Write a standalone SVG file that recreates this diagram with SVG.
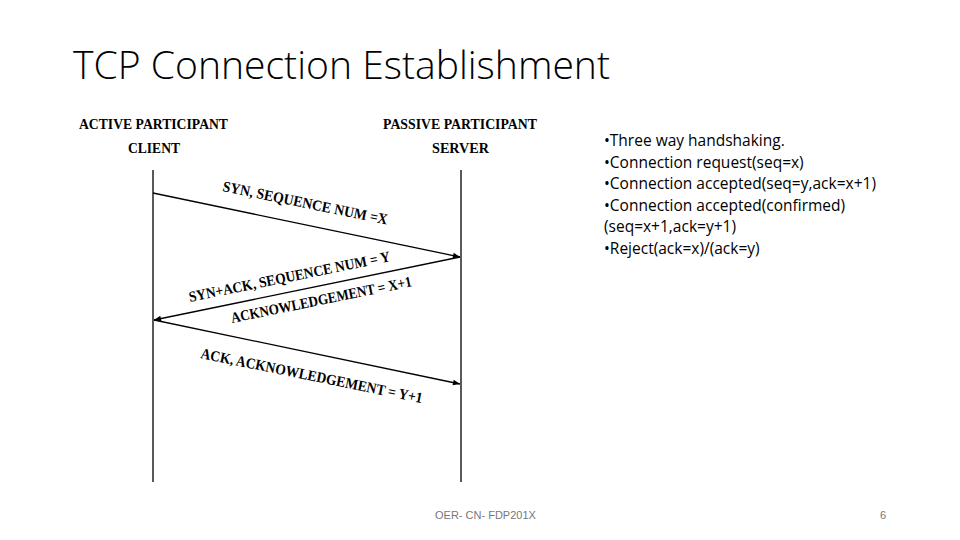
<svg xmlns="http://www.w3.org/2000/svg" width="960" height="540" viewBox="0 0 960 540">
<style>
.hd{font-family:"Liberation Serif",serif;font-weight:bold;font-size:14px;fill:#000}
.lb{font-family:"Liberation Serif",serif;font-weight:bold;font-size:15px;fill:#000}
.bt{font-family:"Open Sans","Liberation Sans",sans-serif;font-size:15.5px;fill:#000}
.ft{font-family:"Liberation Sans",sans-serif;font-size:11px;fill:#777}
.ln{stroke:#000;stroke-width:1.3;fill:none}
</style>
<defs>
<marker id="ah" viewBox="0 0 10 10" refX="10" refY="5" markerWidth="9" markerHeight="7" markerUnits="userSpaceOnUse" orient="auto">
<path d="M0,1 L10,5 L0,9 Z" fill="#000"/>
</marker>
</defs>
<rect width="960" height="540" fill="#fff"/>
<text x="73" y="79" font-family="Open Sans, Liberation Sans, sans-serif" font-size="38" font-weight="300" textLength="537" lengthAdjust="spacingAndGlyphs">TCP Connection Establishment</text>
<g id="client">
<text class="hd" x="79" y="129" textLength="149" lengthAdjust="spacingAndGlyphs">ACTIVE PARTICIPANT</text>
<text class="hd" x="128" y="153" textLength="52" lengthAdjust="spacingAndGlyphs">CLIENT</text>
<line class="ln" x1="153" y1="170" x2="153" y2="482"/>
</g>
<g id="server">
<text class="hd" x="383" y="129" textLength="154" lengthAdjust="spacingAndGlyphs">PASSIVE PARTICIPANT</text>
<text class="hd" x="432" y="153" textLength="57" lengthAdjust="spacingAndGlyphs">SERVER</text>
<line class="ln" x1="461" y1="170" x2="461" y2="482"/>
</g>
<g id="connectors">
<line class="ln" x1="153" y1="193" x2="460" y2="257" marker-end="url(#ah)"/>
<line class="ln" x1="460" y1="257" x2="154" y2="320" marker-end="url(#ah)"/>
<line class="ln" x1="154" y1="320" x2="460" y2="384" marker-end="url(#ah)"/>
<text class="lb" transform="translate(222,191) rotate(11.5)" textLength="168" lengthAdjust="spacingAndGlyphs">SYN, SEQUENCE NUM =X</text>
<text class="lb" transform="translate(190,302) rotate(-11.5)" textLength="205" lengthAdjust="spacingAndGlyphs">SYN+ACK, SEQUENCE NUM = Y</text>
<text class="lb" transform="translate(232,323) rotate(-11.5)" textLength="184" lengthAdjust="spacingAndGlyphs">ACKNOWLEDGEMENT = X+1</text>
<text class="lb" transform="translate(200,358) rotate(11.5)" textLength="226" lengthAdjust="spacingAndGlyphs">ACK, ACKNOWLEDGEMENT = Y+1</text>
</g>
<g id="notes">
<text class="bt" x="604" y="146">•Three way handshaking.</text>
<text class="bt" x="604" y="168">•Connection request(seq=x)</text>
<text class="bt" x="604" y="189">•Connection accepted(seq=y,ack=x+1)</text>
<text class="bt" x="604" y="211">•Connection accepted(confirmed)</text>
<text class="bt" x="604" y="232">(seq=x+1,ack=y+1)</text>
<text class="bt" x="604" y="254">•Reject(ack=x)/(ack=y)</text>
</g>
<text class="ft" x="435" y="519">OER- CN- FDP201X</text>
<text class="ft" x="880" y="519">6</text>
</svg>
